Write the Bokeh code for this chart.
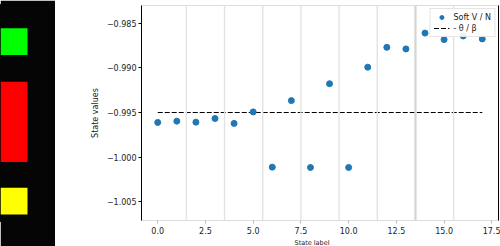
from bokeh.plotting import figure
from bokeh.layouts import row
from bokeh.models import (FixedTicker, CustomJSTickFormatter, Range1d, Span, LinearAxis,
                          Legend, LegendItem, Title)
from bokeh.embed import file_html
from bokeh.resources import INLINE

# ---- data ----
state_labels = list(range(18))
soft_vn = [-0.99611, -0.99597, -0.99608, -0.99567, -0.99622, -0.99493,
           -1.00111, -0.99367, -1.00115, -0.99178, -1.00115, -0.98993,
           -0.98771, -0.98789, -0.98612, -0.98684, -0.98644, -0.98677]
theta_beta = -0.995
separators = [1.5, 3.5, 5.5, 7.5, 9.5, 11.5, 13.5, 15.5]
x_ticks = [0, 2.5, 5, 7.5, 10, 12.5, 15, 17.5]
y_ticks = [-1.005, -1.000, -0.995, -0.990, -0.985]

# side panel blocks (colour, top, bottom) in panel pixel units
panel_colors = ["#00ff00", "#ff0000", "#ffff00"]
panel_top = [28, 82, 189]
panel_bottom = [55, 163, 216]
panel_left = [0, 0, 0]
panel_right = [27, 27, 27]

FONT = "DejaVu Sans"
H = 246
MB_TOP, MB_BOTTOM = 5, 24
PANEL_BG = "#050505"

# ---- left black panel ----
side = figure(width=55, height=H, output_backend="svg", toolbar_location=None,
              x_range=Range1d(0, 55), y_range=Range1d(H - MB_BOTTOM, MB_TOP),
              min_border_left=0, min_border_right=0,
              min_border_top=MB_TOP, min_border_bottom=MB_BOTTOM,
              background_fill_color=PANEL_BG, border_fill_color=PANEL_BG)
side.axis.visible = False
side.grid.visible = False
side.outline_line_color = PANEL_BG
side.outline_line_width = 3
side.quad(left=panel_left, right=panel_right, top=panel_top, bottom=panel_bottom,
          fill_color=panel_colors, line_color=None)

# ---- main plot ----
p = figure(width=445, height=H, output_backend="svg", toolbar_location=None,
           x_range=Range1d(-0.85, 17.85), y_range=Range1d(-1.00708, -0.98303),
           min_border_left=86, min_border_right=2,
           min_border_top=MB_TOP, min_border_bottom=MB_BOTTOM)
p.grid.visible = False
p.outline_line_color = "#dddddd"
p.background_fill_color = "white"

for s in separators:
    p.add_layout(Span(location=s, dimension="height",
                      line_color="#d4d4d4" if s == 13.5 else "#e3e3e3",
                      line_width=2.2 if s == 13.5 else 1.4))

dash = p.line(x=[state_labels[0], state_labels[-1]], y=[theta_beta, theta_beta],
              line_color="black", line_dash="5 2", line_width=1.2)
pts = p.scatter(x=state_labels, y=soft_vn, size=6, fill_color="#1f77b4", line_color="#1f77b4")

# axes
p.xaxis.ticker = FixedTicker(ticks=x_ticks)
p.xaxis.formatter = CustomJSTickFormatter(code="return tick.toFixed(1);")
p.yaxis.ticker = FixedTicker(ticks=y_ticks)
p.yaxis.formatter = CustomJSTickFormatter(
    code="return (tick < 0 ? '\u2212' : '') + Math.abs(tick).toFixed(3);")
for ax in (p.xaxis[0], p.yaxis[0]):
    ax.major_label_text_font = FONT
    ax.major_label_text_font_size = "8px"
    ax.major_label_text_color = "#222222"
    ax.minor_tick_line_color = None
    ax.major_tick_in = 0
    ax.major_tick_out = 3
    ax.axis_label_text_font = FONT
    ax.axis_label_text_font_size = "8px"
    ax.axis_label_text_font_style = "normal"
    ax.axis_label_text_color = "#222222"
p.yaxis.axis_line_color = "black"
p.yaxis.major_tick_line_color = "black"
p.yaxis.major_label_standoff = 2
p.yaxis.axis_label = "State values"
p.yaxis.axis_label_standoff = 4
p.xaxis.axis_line_color = "#dddddd"
p.xaxis.major_tick_line_color = "#bbbbbb"
p.xaxis.major_label_standoff = 3

xlabel = Title(text="State label", align="left", offset=153, standoff=0,
               text_font=FONT, text_font_size="6.5px", text_font_style="normal",
               text_color="#222222")
p.add_layout(xlabel, "below")

right_ax = LinearAxis(ticker=FixedTicker(ticks=[]), major_tick_line_color=None,
                      minor_tick_line_color=None, axis_line_color="black")
p.add_layout(right_ax, "right")

legend = Legend(items=[LegendItem(label="Soft V / N", renderers=[pts]),
                       LegendItem(label="- \u03b8 / \u03b2", renderers=[dash])],
                location="top_right", margin=3, padding=3, spacing=1,
                label_text_font=FONT, label_text_font_size="8px", label_text_color="#222222",
                glyph_width=16, glyph_height=10, label_standoff=4,
                border_line_color="#cccccc", background_fill_alpha=0.9)
p.add_layout(legend)

layout = row(side, p, spacing=0)
open("out.html", "w").write(file_html(layout, INLINE))
